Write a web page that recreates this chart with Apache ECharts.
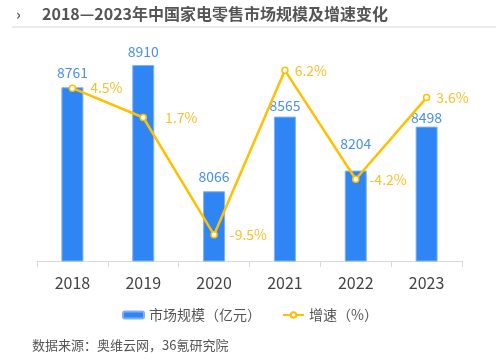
<!DOCTYPE html>
<html><head><meta charset="utf-8">
<script src="https://cdn.jsdelivr.net/npm/echarts@6/dist/echarts.min.js"></script>
<style>html,body{margin:0;padding:0;background:#fff}#c{width:500px;height:364px}</style>
</head><body><div id="c"></div>
<script>
const years = ['2018','2019','2020','2021','2022','2023'];
const marketSize = [8761, 8910, 8066, 8565, 8204, 8498];
const growth = [4.5, 1.7, -9.5, 6.2, -4.2, 3.6];
const titleText = '2018—2023年中国家电零售市场规模及增速变化';
const sourceText = '数据来源：奥维云网，36氪研究院';

const barLabelDist = [8, 6, 8, 4, 20, 2];
const lineLabelDist = [14, 18, 12, 6, 10, 6];
const font = '"Noto Sans CJK SC", "Noto Sans", sans-serif';

const chart = echarts.init(document.getElementById('c'), null, {renderer: 'canvas'});
chart.setOption({
  animation: false,
  textStyle: {fontFamily: font},
  graphic: [
    {type: 'text', left: 16, top: 7, style: {text: '›', font: 'bold 15px ' + font, fill: '#666'}},
    {type: 'text', left: 42, top: 6, style: {text: titleText, font: 'bold 16px ' + font, fill: '#555'}},
    {type: 'rect', shape: {x: 12, y: 26, width: 484, height: 2}, style: {fill: '#ebebeb'}},
    {type: 'text', left: 32, top: 339, style: {text: sourceText, font: '13px ' + font, fill: '#555'}}
  ],
  grid: {left: 37, right: 38, top: 51.5, bottom: 103},
  legend: {
    left: 117, top: 303, itemGap: 21, itemWidth: 21, itemHeight: 7,
    textStyle: {fontSize: 14, color: '#555', fontFamily: font},
    data: ['市场规模（亿元）', '增速（%）']
  },
  xAxis: {
    type: 'category', data: years,
    axisLine: {onZero: false, lineStyle: {color: '#d9d9d9'}},
    axisTick: {show: true, length: 6, lineStyle: {color: '#d9d9d9'}},
    axisLabel: {fontSize: 16, color: '#444', margin: 14, fontFamily: font}
  },
  yAxis: [
    {type: 'value', min: 7600, max: 9000, show: false, splitLine: {show: false}},
    {type: 'value', min: -12, max: 8, show: false, splitLine: {show: false}}
  ],
  series: [
    {
      name: '市场规模（亿元）', type: 'bar', barWidth: 22,
      itemStyle: {color: '#3085F5', borderColor: '#7fb2f5', borderWidth: 1},
      data: marketSize.map((v, i) => ({value: v, label: {distance: barLabelDist[i]}})),
      label: {show: true, position: 'top', fontSize: 14, color: '#4a90ec', fontFamily: font}
    },
    {
      name: '增速（%）', type: 'line', yAxisIndex: 1,
      symbol: 'circle', symbolSize: 6, showAllSymbol: true,
      lineStyle: {color: '#FFC000', width: 2.5},
      itemStyle: {color: '#fff', borderColor: '#FFC000', borderWidth: 1.5},
      data: growth.map((v, i) => ({value: v, label: {distance: lineLabelDist[i]}})),
      label: {show: true, position: 'right', fontSize: 14, color: '#f8c02e', fontFamily: font,
        formatter: p => p.value.toFixed(1) + '%'}
    }
  ]
});
</script></body></html>
